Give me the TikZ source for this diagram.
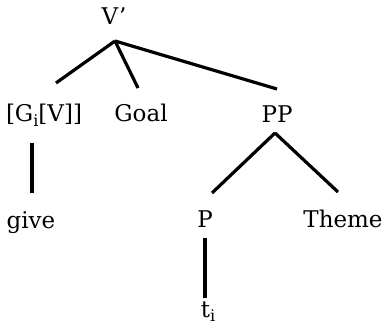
\documentclass[tikz,border=0pt]{standalone}
\usepackage{fontspec}
\setmainfont{DejaVu Serif}
\usetikzlibrary{calc}
\begin{document}
\begin{tikzpicture}[x=1pt,y=-1pt,
  lbl/.style={anchor=base,inner sep=0pt,font=\fontsize{23}{27}\selectfont},
  branch/.style={line width=3.2pt,line cap=butt}]
\useasboundingbox (0,0) rectangle (390,331);
\node[lbl] (Vp) at (114,25) {V'};
\node[lbl] (G) at (44,122) {[G\raisebox{-0.4ex}{\fontsize{16}{16}\selectfont i}[V]]};
\node[lbl] (Goal) at (141,122) {Goal};
\node[lbl] (PP) at (277,123) {PP};
\node[lbl] (give) at (31,228) {give};
\node[lbl] (P) at (205,227) {P};
\node[lbl] (Theme) at (343,227) {Theme};
\node[lbl] (t) at (208,317) {t\raisebox{-0.4ex}{\fontsize{16}{16}\selectfont i}};
\coordinate (apex) at ($(Vp.base)+(1,16)$);
\coordinate (Gtop) at ($(G.base)+(12,-39)$);
\coordinate (Goaltop) at ($(Goal.base)+(-3,-34)$);
\coordinate (PPtop) at ($(PP.base)+(0,-34)$);
\draw[branch] (apex) -- (Gtop);
\draw[branch] (apex) -- (Goaltop);
\draw[branch] (apex) -- (PPtop);
\draw[branch] ($(G.base)+(-12,21)$) -- ($(give.base)+(1,-35)$);
\draw[branch] ($(PP.base)+(-2,10)$) -- ($(P.base)+(7,-34)$);
\draw[branch] ($(PP.base)+(-2,10)$) -- ($(Theme.base)+(-5,-35)$);
\draw[branch] ($(P.base)+(0,11)$) -- ($(t.base)+(-3,-19)$);
\end{tikzpicture}
\end{document}
